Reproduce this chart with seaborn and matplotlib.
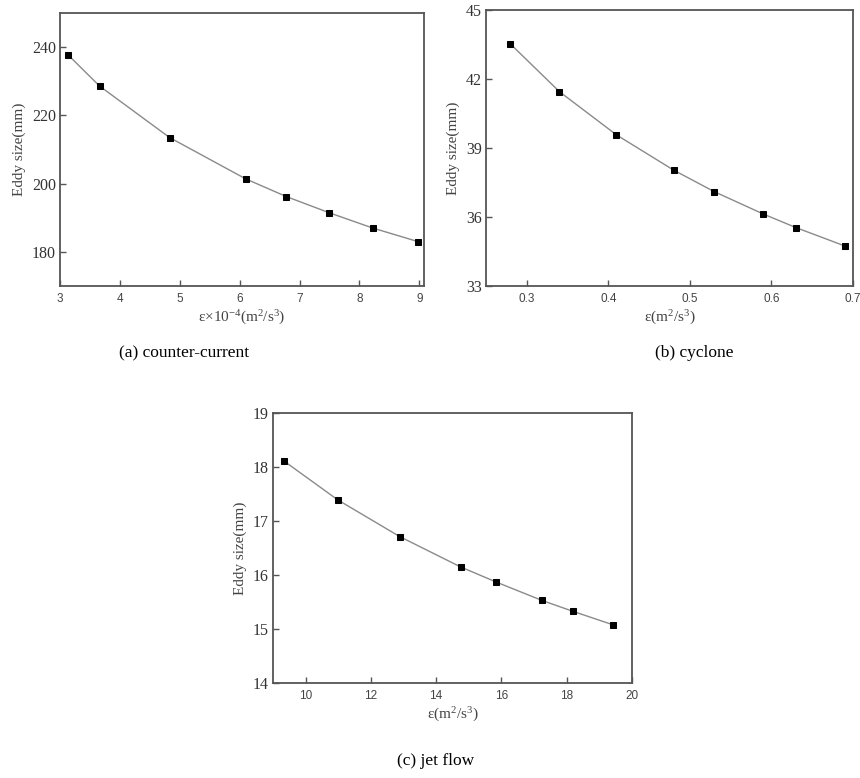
import pandas as pd
import matplotlib
matplotlib.use("Agg")
import matplotlib.pyplot as plt
import seaborn as sns

# values
eps_a = [3.13, 3.66, 4.83, 6.10, 6.78, 7.49, 8.22, 8.98]
eddy_a = [237.8, 228.6, 213.5, 201.4, 196.2, 191.5, 187.0, 183.0]

eps_b = [0.28, 0.34, 0.41, 0.48, 0.53, 0.59, 0.63, 0.69]
eddy_b = [43.52, 41.45, 39.57, 38.04, 37.10, 36.13, 35.54, 34.74]

eps_c = [9.34, 10.99, 12.89, 14.75, 15.84, 17.24, 18.18, 19.41]
eddy_c = [18.11, 17.39, 16.71, 16.15, 15.87, 15.53, 15.33, 15.08]

sns.set_style("white")
plt.rcParams['font.family'] = ['Liberation Serif', 'DejaVu Serif']
plt.rcParams['mathtext.fontset'] = 'custom'
plt.rcParams['mathtext.rm'] = 'Liberation Serif'

fig = plt.figure(figsize=(8.6, 7.78), dpi=100)

panels = [
    dict(rect=[0.0698, 0.6324, 0.4233, 0.3509], x=eps_a, y=eddy_a,
         xlim=(3, 9.08), ylim=(170, 250), xticks=[3, 4, 5, 6, 7, 8, 9],
         yticks=[180, 200, 220, 240],
         xlabel=r"$\mathrm{\varepsilon{\times}10^{-4}(m^2/s^3)}$",
         caption="(a) counter-current", cap=(0.214, 0.536)),
    dict(rect=[0.5651, 0.6324, 0.4267, 0.3548], x=eps_b, y=eddy_b,
         xlim=(0.25, 0.70), ylim=(33, 45), xticks=[0.3, 0.4, 0.5, 0.6, 0.7],
         yticks=[33, 36, 39, 42, 45],
         xlabel=r"$\mathrm{\varepsilon(m^2/s^3)}$",
         caption="(b) cyclone", cap=(0.807, 0.536)),
    dict(rect=[0.3174, 0.1221, 0.4174, 0.3470], x=eps_c, y=eddy_c,
         xlim=(9, 20), ylim=(14, 19), xticks=[10, 12, 14, 16, 18, 20],
         yticks=[14, 15, 16, 17, 18, 19],
         xlabel=r"$\mathrm{\varepsilon(m^2/s^3)}$",
         caption="(c) jet flow", cap=(0.506, 0.012)),
]

for p in panels:
    ax = fig.add_axes(p["rect"])
    df = pd.DataFrame({"eps": p["x"], "eddy": p["y"]})
    sns.lineplot(data=df, x="eps", y="eddy", ax=ax, color="#8a8a8a",
                 linewidth=1.0, marker="s", markersize=4.8,
                 markerfacecolor="black", markeredgecolor="black")
    ax.set_xlim(*p["xlim"])
    ax.set_ylim(*p["ylim"])
    ax.set_xticks(p["xticks"])
    ax.set_yticks(p["yticks"])
    ax.tick_params(bottom=True, left=True, top=False, right=False,
                   direction="in", length=4, width=1, color="#555555")
    ax.tick_params(axis="x", labelsize=8.5, labelcolor="#444444", pad=5)
    ax.tick_params(axis="y", labelsize=11.5, labelcolor="#333333", pad=3)
    for lab in ax.get_xticklabels():
        lab.set_family(['Liberation Sans', 'DejaVu Sans'])
    for s in ax.spines.values():
        s.set_color("#555555")
        s.set_linewidth(1.3)
    ax.set_xlabel(p["xlabel"], fontsize=11, color="#444444", labelpad=3)
    ax.set_ylabel("Eddy size(mm)", fontsize=11, color="#444444", labelpad=4)
    fig.text(p["cap"][0], p["cap"][1], p["caption"], fontsize=12.5,
             ha="center", va="bottom", color="black")

fig.savefig("out.png", dpi=100)
